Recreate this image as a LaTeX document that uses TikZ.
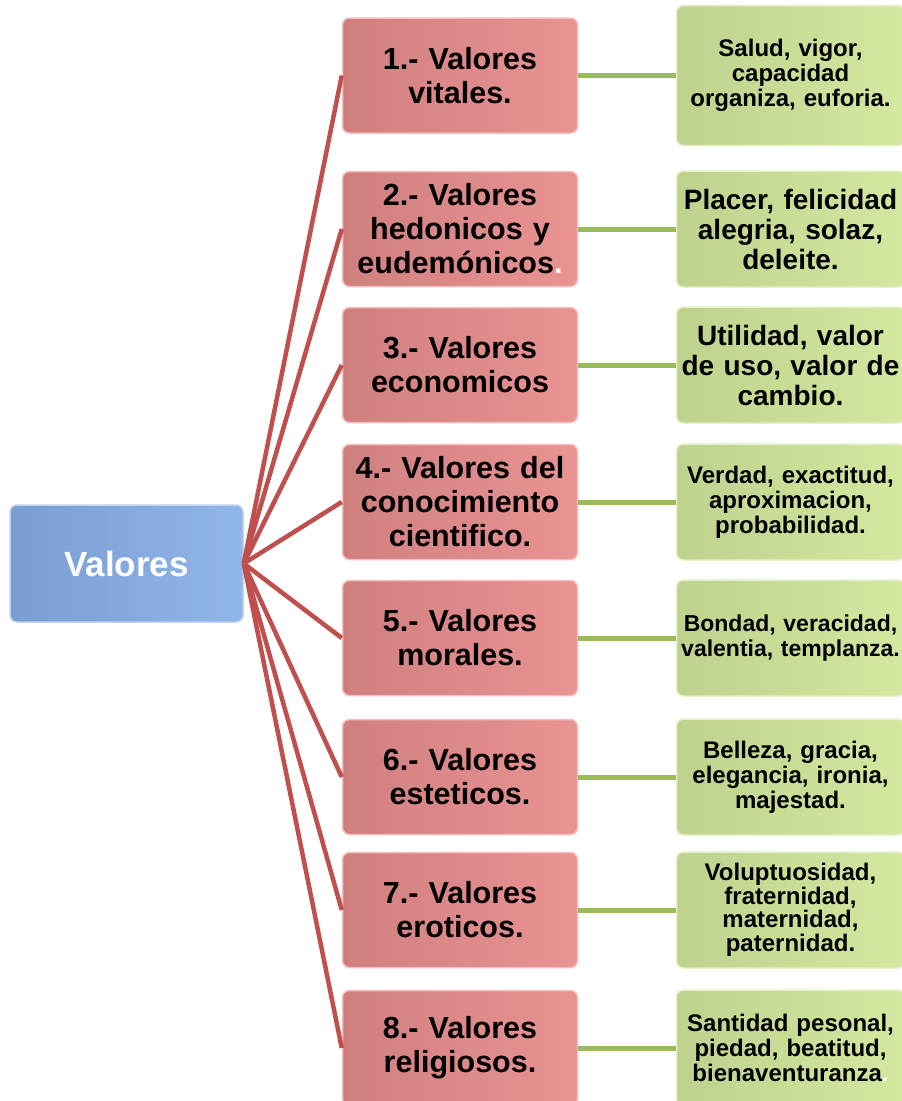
\documentclass[tikz,border=0pt]{standalone}
\usepackage{fontspec}
\setmainfont{Liberation Sans}
\usepackage{xcolor}
\definecolor{rootL}{RGB}{122,157,210}
\definecolor{rootR}{RGB}{145,182,232}
\definecolor{catL}{RGB}{208,127,127}
\definecolor{catR}{RGB}{234,147,147}
\definecolor{exL}{RGB}{190,210,142}
\definecolor{exR}{RGB}{212,232,160}
\definecolor{lnkred}{RGB}{192,80,77}
\definecolor{lnkgreen}{RGB}{155,187,89}
\usepackage{tikz}
\usetikzlibrary{positioning}
\tikzset{
  vl_root/.style={rectangle,rounded corners=7pt,left color=rootL,right color=rootR,
    draw=rootR!60!white,line width=1.5pt,minimum width=233pt,minimum height=117pt,
    align=center,text=white,font=\fontsize{35}{40}\selectfont\bfseries},
  vl_cat/.style={rectangle,rounded corners=7pt,left color=catL,right color=catR,
    draw=catR!60!white,line width=1.5pt,text width=229pt,inner xsep=3pt,minimum height=115pt,
    align=center,font=\fontsize{30.5}{34}\selectfont\bfseries},
  vl_ex/.style={rectangle,rounded corners=7pt,left color=exL,right color=exR,
    draw=exR!60!white,line width=1.5pt,text width=236pt,inner xsep=-4pt,minimum height=116pt,
    align=center,font=\fontsize{24}{25}\selectfont\bfseries},
  vl_exbig/.style={vl_ex,font=\fontsize{28}{30}\selectfont\bfseries},
  lnk_red/.style={draw=lnkred,line width=4.5pt},
  lnk_green/.style={draw=lnkgreen,line width=5pt},
}

\begin{document}
\begin{tikzpicture}[x=1pt,y=-1pt,node distance=97.5pt]
  \useasboundingbox (0,0) rectangle (902,1101);
  \node (root) [vl_root] at (126.5,563.5) {Valores};
  % categories
  \node (c1) [vl_cat] at (460,75.5) {1.- Valores\\vitales.};
  \node (c2) [vl_cat] at (460,229) {2.- Valores\\hedonicos y\\eudemónicos\textcolor{white}{.}};
  \node (c3) [vl_cat] at (460,365) {3.- Valores\\economicos};
  \node (c4) [vl_cat] at (460,502) {4.- Valores del\\conocimiento\\cientifico.};
  \node (c5) [vl_cat] at (460,638) {5.- Valores\\morales.};
  \node (c6) [vl_cat] at (460,777) {6.- Valores\\esteticos.};
  \node (c7) [vl_cat] at (460,910) {7.- Valores\\eroticos.};
  \node (c8) [vl_cat] at (460,1048) {8.- Valores\\religiosos.};
  % examples
  \node (g1) [vl_ex,minimum height=140pt,right=of c1] {Salud, vigor,\\capacidad\\organiza, euforia.};
  \node (g2) [vl_exbig,right=of c2] {Placer, felicidad\\alegria, solaz,\\deleite.};
  \node (g3) [vl_exbig,right=of c3] {Utilidad, valor\\de uso, valor de\\cambio.};
  \node (g4) [vl_ex,right=of c4] {Verdad, exactitud,\\aproximacion,\\probabilidad.};
  \node (g5) [vl_ex,font=\fontsize{23}{25}\selectfont\bfseries,right=of c5]
    {Bondad, veracidad,\\valentia, templanza.};
  \node (g6) [vl_ex,right=of c6] {Belleza, gracia,\\elegancia, ironia,\\majestad.};
  \node (g7) [vl_ex,font=\fontsize{24}{23.5}\selectfont\bfseries,right=of c7]
    {Voluptuosidad,\\fraternidad,\\maternidad,\\paternidad.};
  \node (g8) [vl_ex,right=of c8] {Santidad pesonal,\\piedad, beatitud,\\bienaventuranza\textcolor{white}{.}};
  \draw[lnk_red](root.east)--(c1.west); \draw[lnk_red](root.east)--(c2.west);
  \draw[lnk_red](root.east)--(c3.west); \draw[lnk_red](root.east)--(c4.west);
  \draw[lnk_red](root.east)--(c5.west); \draw[lnk_red](root.east)--(c6.west);
  \draw[lnk_red](root.east)--(c7.west); \draw[lnk_red](root.east)--(c8.west);
  \draw[lnk_green](c1)--(g1); \draw[lnk_green](c2)--(g2); \draw[lnk_green](c3)--(g3);
  \draw[lnk_green](c4)--(g4); \draw[lnk_green](c5)--(g5); \draw[lnk_green](c6)--(g6);
  \draw[lnk_green](c7)--(g7); \draw[lnk_green](c8)--(g8);
\end{tikzpicture}
\end{document}
